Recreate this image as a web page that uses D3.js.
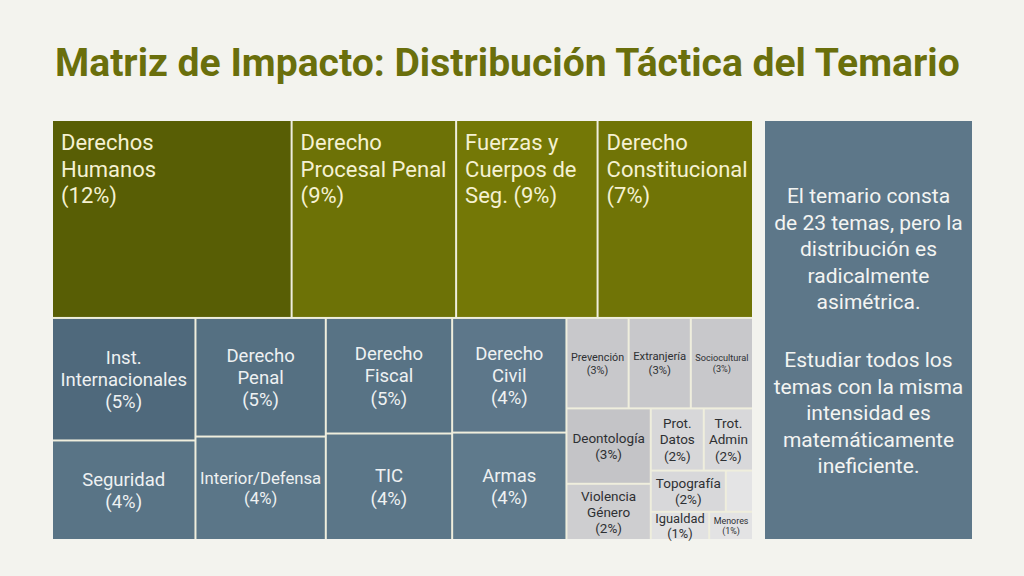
<!DOCTYPE html>
<html>
<head>
<meta charset="utf-8">
<script src="https://cdn.jsdelivr.net/npm/d3@7"></script>
<style>
body{margin:0;background:#f3f3ee;font-family:Roboto,"Noto Sans",sans-serif;}
</style>
</head>
<body>
<svg id="c" width="1024" height="576"></svg>
<script>
var W = 1024, H = 576;

// temas (hojas del treemap)
var names = ["Derechos Humanos", "Derecho Procesal Penal", "Fuerzas y Cuerpos de Seg.", "Derecho Constitucional",
             "Inst. Internacionales", "Seguridad", "Derecho Penal", "Interior/Defensa",
             "Derecho Fiscal", "TIC", "Derecho Civil", "Armas",
             "Prevención", "Extranjería", "Sociocultural", "Deontología", "Violencia Género",
             "Prot. Datos", "Trot. Admin", "Topografía", "Otros", "Igualdad", "Menores"];
var labels = ["Derechos\nHumanos\n{p}", "Derecho\nProcesal Penal\n{p}", "Fuerzas y\nCuerpos de\nSeg. {p}", "Derecho\nConstitucional\n{p}",
              "Inst.\nInternacionales\n{p}", "Seguridad\n{p}", "Derecho\nPenal\n{p}", "Interior/Defensa\n{p}",
              "Derecho\nFiscal\n{p}", "TIC\n{p}", "Derecho\nCivil\n{p}", "Armas\n{p}",
              "Prevención\n{p}", "Extranjería\n{p}", "Sociocultural\n{p}", "Deontología\n{p}", "Violencia\nGénero\n{p}",
              "Prot.\nDatos\n{p}", "Trot.\nAdmin\n{p}", "Topografía\n{p}", "", "Igualdad\n{p}", "Menores\n{p}"];
// porcentaje escrito en cada celda
var pct = [12, 9, 9, 7, 5, 4, 5, 4, 5, 4, 4, 4, 3, 3, 3, 3, 2, 2, 2, 2, null, 1, 1];
// peso relativo (area de la celda, % del total)
var share = [16.11, 11.06, 9.51, 10.45, 5.97, 4.85, 5.25, 4.58, 4.96, 4.57, 4.45, 4.17,
             1.91, 1.91, 1.91, 2.16, 1.61, 1.12, 1.04, 1.05, 0.38, 0.56, 0.42];
var leafParent = ["olive", "olive", "olive", "olive", "bL1", "bL1", "bL2", "bL2", "bM1", "bM1", "bM2", "bM2",
                  "gR1", "gR1", "gR1", "gA", "gA", "gB1", "gB1", "gB2", "gB2", "gB3", "gB3"];

// grupos intermedios y sentido del corte
var groups      = ["root", "olive", "bottom", "blueL", "bL1", "bL2", "blueM", "bM1", "bM2", "gray", "gR1", "gR2", "gA", "gB", "gB1", "gB2", "gB3"];
var groupParent = [null, "root", "root", "bottom", "blueL", "blueL", "bottom", "blueM", "blueM", "bottom", "gray", "gray", "gR2", "gR2", "gB", "gB", "gB"];
var groupCut    = ["slice", "dice", "dice", "dice", "slice", "slice", "dice", "slice", "slice", "slice", "dice", "dice", "slice", "slice", "dice", "dice", "dice"];

var panelText = ["El temario consta", "de 23 temas, pero la", "distribución es", "radicalmente", "asimétrica.", "",
                 "Estudiar todos los", "temas con la misma", "intensidad es", "matemáticamente", "ineficiente."];

var rows = groups.map(function (g, i) { return {id: g, parent: groupParent[i], cut: groupCut[i]}; });
names.forEach(function (n, i) {
    rows.push({id: n, parent: leafParent[i], share: share[i], pct: pct[i], label: labels[i]});
});

var svg = d3.select("#c");

// titulo: tamaño ajustado para ocupar ~905px
var title = svg.append("text")
    .attr("x", 55).attr("y", 76)
    .style("font-size", "42px").style("font-weight", "bold")
    .style("fill", "#6a6f0c")
    .text("Matriz de Impacto: Distribución Táctica del Temario");
var tl = title.node().getComputedTextLength();
title.style("font-size", (42 * 905 / tl) + "px");

var tx = 53, ty = 121, tw = 699, th = 418;

var root = d3.stratify().id(function (d) { return d.id; }).parentId(function (d) { return d.parent; })(rows)
    .sum(function (d) { return d.share || 0; });

d3.treemap()
    .tile(function (node, x0, y0, x1, y1) {
        (node.data.cut == "slice" ? d3.treemapSlice : d3.treemapDice)(node, x0, y0, x1, y1);
    })
    .size([tw, th])
    .paddingInner(2)(root);

function family(d) {
    var a = d.ancestors().map(function (n) { return n.id; });
    if (a.indexOf("olive") >= 0) return "olive";
    if (a.indexOf("gray") >= 0) return "gray";
    return "blue";
}

var leaves = root.leaves();
var ranges = {olive: ["#747806", "#585e05"], blue: ["#5f7a8c", "#4f697c"], gray: ["#e4e4e5", "#c4c4c7"]};
var color = {};
["olive", "blue", "gray"].forEach(function (f) {
    var ext = d3.extent(leaves.filter(function (d) { return family(d) == f; }), function (d) { return d.value; });
    color[f] = d3.scaleLinear().domain(ext).range(ranges[f]);
});

var g = svg.append("g").attr("transform", "translate(" + tx + "," + ty + ")");

g.append("rect").attr("width", tw).attr("height", th).attr("fill", "#efeedd");

var cell = g.selectAll("g.cell").data(leaves).enter().append("g").attr("class", "cell");

cell.append("rect")
    .attr("x", function (d) { return d.x0; })
    .attr("y", function (d) { return d.y0; })
    .attr("width", function (d) { return d.x1 - d.x0; })
    .attr("height", function (d) { return d.y1 - d.y0; })
    .attr("fill", function (d) { return color[family(d)](d.value); });

cell.each(function (d) {
    if (!d.data.label) return;
    var f = family(d);
    var lines = d.data.label.replace("{p}", "(" + d.data.pct + "%)").split("\n");
    var w = d.x1 - d.x0, h = d.y1 - d.y0;
    var t = d3.select(this).append("text");
    if (f == "olive") {
        var fs = 22, lh = 26.5;
        t.style("font-size", fs + "px").style("fill", "#f5f1d2");
        lines.forEach(function (l, i) {
            t.append("tspan").attr("x", d.x0 + 8).attr("y", d.y0 + 29 + i * lh).text(l);
        });
        return;
    }
    var base = f == "blue" ? 18.5 : 13.5;
    t.style("font-size", base + "px").style("fill", f == "blue" ? "#eef1f2" : "#2e3033")
        .attr("text-anchor", "middle");
    var sp = lines.map(function (l) { return t.append("tspan").text(l); });
    var maxW = d3.max(sp, function (s) { return s.node().getComputedTextLength(); });
    var fs2 = Math.min(base, base * (w - 7) / maxW);
    var lh2 = fs2 * 1.2;
    t.style("font-size", fs2 + "px");
    var cx = d.x0 + w / 2, cy = d.y0 + h / 2;
    var first = cy - (lines.length - 1) * lh2 / 2 + fs2 * 0.36;
    sp.forEach(function (s, i) { s.attr("x", cx).attr("y", first + i * lh2); });
});

// panel lateral
svg.append("rect").attr("x", 765).attr("y", 121).attr("width", 207).attr("height", 418).attr("fill", "#5d7789");
var pt = svg.append("text").attr("text-anchor", "middle")
    .style("font-size", "21px").style("fill", "#f3f4f2");
panelText.forEach(function (l, i) {
    pt.append("tspan").attr("x", 868.5).attr("y", 203 + i * 26.5 + (i > 5 ? 5 : 0)).text(l);
});
</script>
</body>
</html>
